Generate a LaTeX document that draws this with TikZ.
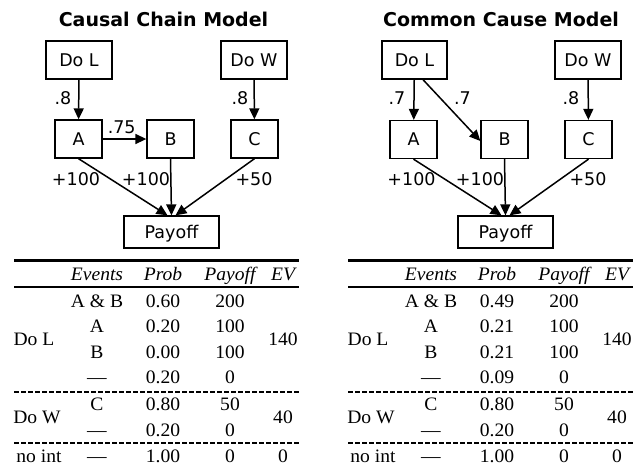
\documentclass[tikz,border=0pt]{standalone}
\usepackage{fontspec}
\usepackage{graphicx}
\setmainfont{Liberation Serif}
\newfontfamily\dvs{DejaVu Sans}
\usetikzlibrary{arrows.meta}
\newcommand\tsc[1]{\scalebox{1.03}[1]{#1}}
\tikzset{
  box/.style={draw, line width=1.3pt, inner sep=0pt, font=\dvs\fontsize{17.5}{17.5}\selectfont, text height=12.7pt, text depth=0pt},
  lab/.style={anchor=base, inner sep=0pt, font=\dvs\fontsize{17.5}{17.5}\selectfont},
  ttl/.style={anchor=base, inner sep=0pt, font=\dvs\bfseries\fontsize{19}{19}\selectfont},
  arr/.style={line width=1.5pt, -{Triangle[length=11pt,width=10pt]}},
  tx/.style={anchor=base, inner sep=0pt, font=\fontsize{19}{19}\selectfont},
  topr/.style={line width=3pt},
  midr/.style={line width=2.2pt},
  dashr/.style={line width=1.4pt, dash pattern=on 4.5pt off 2.5pt},
}
\newcommand\maketable[5]{%
  \draw[topr] (14,260.5) -- (299,260.5);
  \draw[midr] (14,287) -- (299,287);
  \draw[dashr] (14,392) -- (299,392);
  \draw[dashr] (14,443) -- (299,443);
  \node[tx] (#1he) at (97,280) {\tsc{\itshape Events}};
  \node[tx] (#1hp) at (163,280) {\tsc{\itshape Prob}};
  \node[tx] (#1hy) at (230,280) {\tsc{\itshape Payoff}};
  \node[tx] (#1hv) at (283,280) {\tsc{\itshape EV}};
  \node[tx] (#1e1) at (97,307) {\tsc{A \& B}};
  \node[tx] (#1p1) at (163,307) {\tsc{#2}};
  \node[tx] (#1y1) at (230,307) {\tsc{200}};
  \node[tx] (#1e2) at (97,332.5) {\tsc{A}};
  \node[tx] (#1p2) at (163,332.5) {\tsc{#3}};
  \node[tx] (#1y2) at (230,332.5) {\tsc{100}};
  \node[tx] (#1e3) at (97,358) {\tsc{B}};
  \node[tx] (#1p3) at (163,358) {\tsc{#4}};
  \node[tx] (#1y3) at (230,358) {\tsc{100}};
  \node[tx] (#1e4) at (97,383.5) {\tsc{—}};
  \node[tx] (#1p4) at (163,383.5) {\tsc{#5}};
  \node[tx] (#1y4) at (230,383.5) {\tsc{0}};
  \node[tx] (#1dl) at (34,345.5) {\tsc{Do L}};
  \node[tx] (#1v1) at (283,345.5) {\tsc{140}};
  \node[tx] (#1e5) at (97,410) {\tsc{C}};
  \node[tx] (#1p5) at (163,410) {\tsc{0.80}};
  \node[tx] (#1y5) at (230,410) {\tsc{50}};
  \node[tx] (#1e6) at (97,436.5) {\tsc{—}};
  \node[tx] (#1p6) at (163,436.5) {\tsc{0.20}};
  \node[tx] (#1y6) at (230,436.5) {\tsc{0}};
  \node[tx] (#1dw) at (37,423.5) {\tsc{Do W}};
  \node[tx] (#1v2) at (283,423.5) {\tsc{40}};
  \node[tx] (#1ni) at (39,462) {\tsc{no int}};
  \node[tx] (#1e7) at (97,462) {\tsc{—}};
  \node[tx] (#1p7) at (163,462) {\tsc{1.00}};
  \node[tx] (#1y7) at (230,462) {\tsc{0}};
  \node[tx] (#1v3) at (283,462) {\tsc{0}};
}
\begin{document}
\begin{tikzpicture}[x=1pt,y=-1pt]
\useasboundingbox (0,0) rectangle (639,467);
% ---------- left: causal chain ----------
\node[ttl] (t1) at (163.5,26.7) {Causal Chain Model};
\node[box, minimum width=66pt, minimum height=38pt] (DoL1) at (79,60) {Do L};
\node[box, minimum width=66pt, minimum height=38pt] (DoW1) at (254,60) {Do W};
\node[box, minimum width=47pt, minimum height=38pt] (A1) at (78.5,139) {A};
\node[box, minimum width=47pt, minimum height=38pt] (B1) at (170.5,139) {B};
\node[box, minimum width=47pt, minimum height=38pt] (C1) at (254.5,139) {C};
\node[box, minimum width=95pt, minimum height=32pt] (P1) at (171.5,232) {Payoff};
\draw[arr] (DoL1) -- (A1);
\draw[arr] (DoW1) -- (C1);
\draw[arr] (A1) -- (B1);
\draw[arr] (A1.south) -- ([xshift=-4pt]P1.north);
\draw[arr] (B1.south) -- (P1.north);
\draw[arr] (C1.south) -- ([xshift=4pt]P1.north);
\node[lab] (l1a) at (63,104) {.8};
\node[lab] (l1b) at (240,104) {.8};
\node[lab] (l1c) at (121.7,133) {.75};
\node[lab] (l1d) at (76,185) {+100};
\node[lab] (l1e) at (146,185) {+100};
\node[lab] (l1f) at (254,185) {+50};
% ---------- right: common cause ----------
\node[ttl] (t2) at (501,26.7) {Common Cause Model};
\node[box, minimum width=65pt, minimum height=38pt] (DoL2) at (414.5,60) {Do L};
\node[box, minimum width=66pt, minimum height=38pt] (DoW2) at (588,60) {Do W};
\node[box, minimum width=47pt, minimum height=38pt] (A2) at (413.5,139.5) {A};
\node[box, minimum width=47pt, minimum height=38pt] (B2) at (504.5,139.5) {B};
\node[box, minimum width=47pt, minimum height=38pt] (C2) at (588.5,139.5) {C};
\node[box, minimum width=95pt, minimum height=32pt] (P2) at (505.5,232) {Payoff};
\draw[arr] (DoL2) -- (A2);
\draw[arr] ([xshift=8.5pt]DoL2.south) -- ([yshift=-1.5pt]B2.west);
\draw[arr] (DoW2) -- (C2);
\draw[arr] (A2.south) -- ([xshift=-4pt]P2.north);
\draw[arr] (B2.south) -- (P2.north);
\draw[arr] (C2.south) -- ([xshift=4pt]P2.north);
\node[lab] (l2a) at (397,104) {.7};
\node[lab] (l2b) at (462.5,104) {.7};
\node[lab] (l2c) at (571,104) {.8};
\node[lab] (l2d) at (411.5,185) {+100};
\node[lab] (l2e) at (480,185) {+100};
\node[lab] (l2f) at (588,185) {+50};
% ---------- tables ----------
\maketable{L}{0.60}{0.20}{0.00}{0.20}
\begin{scope}[shift={(334,0)}]
\maketable{R}{0.49}{0.21}{0.21}{0.09}
\end{scope}
\end{tikzpicture}
\end{document}
